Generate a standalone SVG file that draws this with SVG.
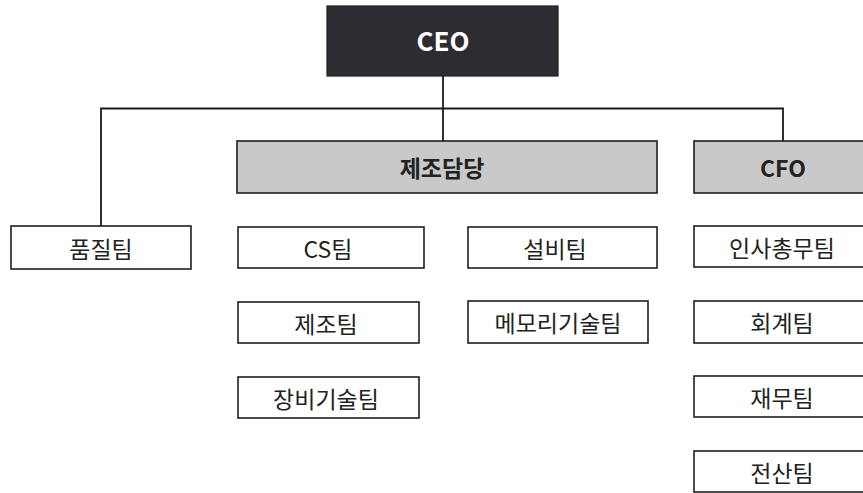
<svg xmlns="http://www.w3.org/2000/svg" width="863" height="493" viewBox="0 0 863 493">
<style>
  .box { fill: #ffffff; stroke: #1e1e1e; stroke-width: 1.6; }
  .grey { fill: #c9c9c9; stroke: #1e1e1e; stroke-width: 1.6; }
  .dark { fill: #2e2b33; stroke: #1e1e1e; stroke-width: 1.2; }
  .t { font-family: "Noto Sans CJK KR", "Liberation Sans", sans-serif; font-size: 23px; fill: #222222; text-anchor: middle; dominant-baseline: central; }
  .tb { font-weight: bold; }
  .tw { fill: #ffffff; font-weight: bold; font-size: 26px; }
  .line { fill: none; stroke: #1a1a1a; stroke-width: 1.8; }
</style>
<rect width="863" height="493" fill="#ffffff"/>
<g id="connectors">
  <path class="line" d="M443 76 V141"/>
  <path class="line" d="M101 226 V108.5 H783 V141"/>
</g>
<g id="ceo">
  <rect class="dark" x="327" y="6" width="231" height="70"/>
  <text class="t tw" x="443" y="39">CEO</text>
</g>
<g id="manufacturing">
  <rect class="grey" x="237" y="141" width="420" height="52"/>
  <text class="t tb" x="442" y="167">제조담당</text>
</g>
<g id="cfo">
  <rect class="grey" x="694" y="141" width="172" height="52"/>
  <text class="t tb" x="783" y="167">CFO</text>
</g>
<g id="quality">
  <rect class="box" x="11" y="226" width="180" height="43"/>
  <text class="t" x="101" y="247.5">품질팀</text>
</g>
<g id="cs">
  <rect class="box" x="238" y="227" width="186" height="41"/>
  <text class="t" x="328" y="247.5">CS팀</text>
</g>
<g id="facility">
  <rect class="box" x="468" y="227" width="189" height="41"/>
  <text class="t" x="555" y="247.5">설비팀</text>
</g>
<g id="hr">
  <rect class="box" x="694" y="226" width="172" height="41"/>
  <text class="t" x="782" y="246.5">인사총무팀</text>
</g>
<g id="production">
  <rect class="box" x="238" y="302" width="181" height="41"/>
  <text class="t" x="326" y="322.5">제조팀</text>
</g>
<g id="memory">
  <rect class="box" x="468" y="301" width="180" height="42"/>
  <text class="t" x="558" y="322">메모리기술팀</text>
</g>
<g id="accounting">
  <rect class="box" x="694" y="301" width="172" height="42"/>
  <text class="t" x="782" y="322">회계팀</text>
</g>
<g id="equipment">
  <rect class="box" x="238" y="377" width="181" height="41"/>
  <text class="t" x="326" y="397.5">장비기술팀</text>
</g>
<g id="finance">
  <rect class="box" x="694" y="376" width="172" height="41"/>
  <text class="t" x="782" y="396.5">재무팀</text>
</g>
<g id="it">
  <rect class="box" x="694" y="451" width="172" height="41"/>
  <text class="t" x="782" y="471.5">전산팀</text>
</g>
</svg>
